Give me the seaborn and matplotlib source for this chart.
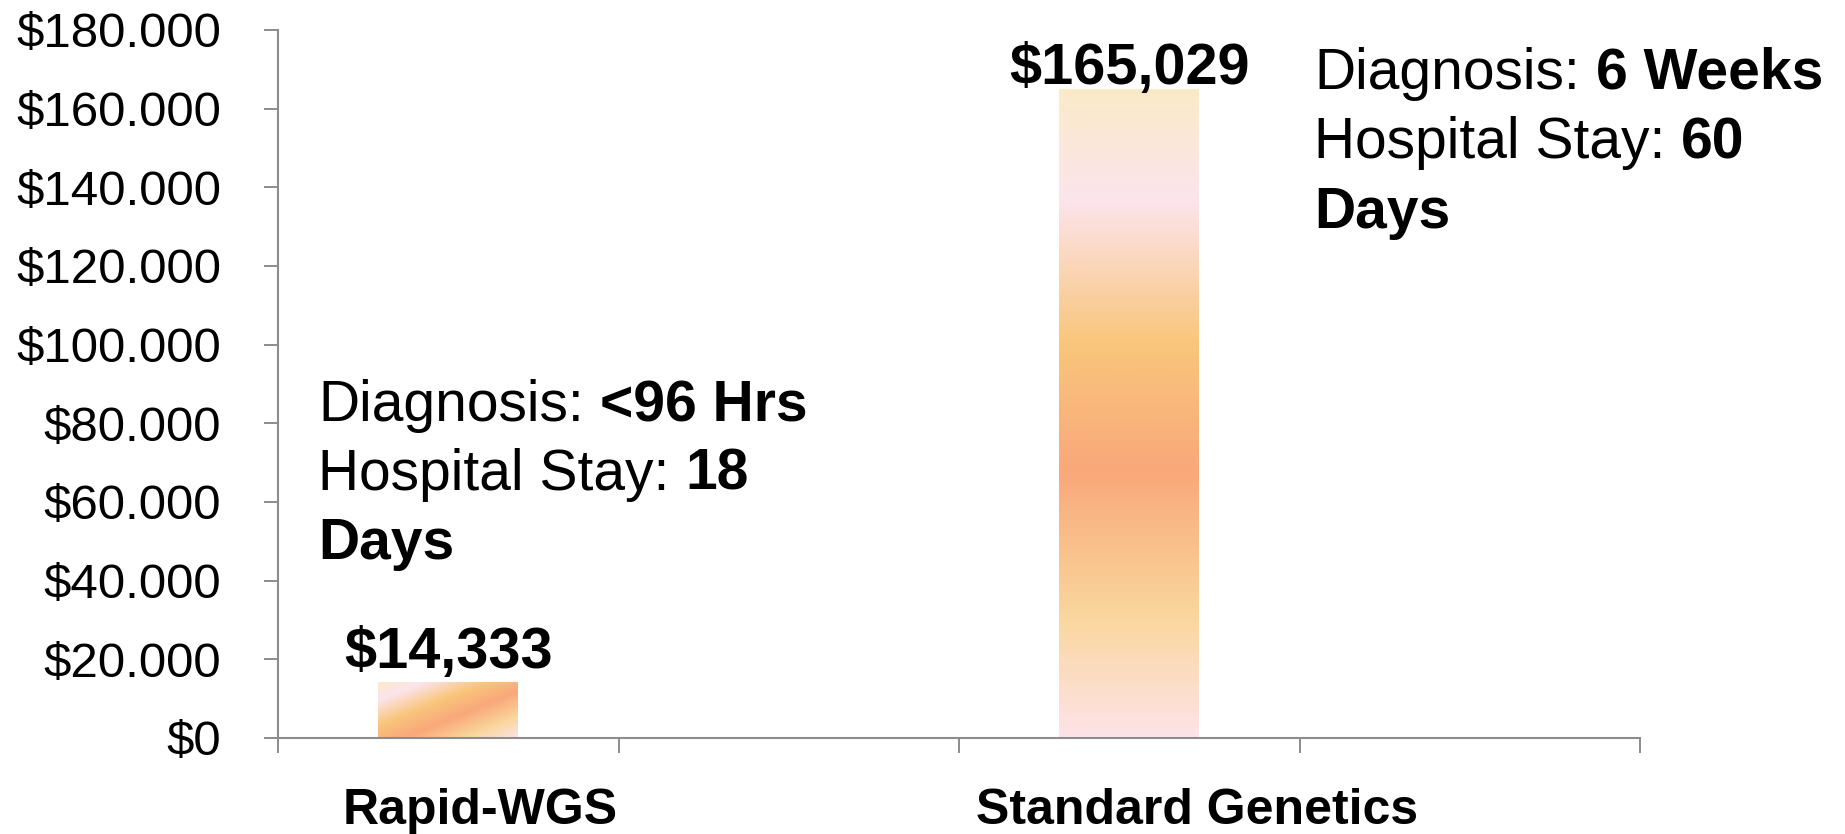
import numpy as np
import pandas as pd
import matplotlib
matplotlib.use("Agg")
import matplotlib.pyplot as plt
import seaborn as sns
from matplotlib.colors import LinearSegmentedColormap

# ---------------- data ----------------
categories = ["Rapid-WGS", "Standard Genetics"]
slots = ["Rapid-WGS", "slot_b", "Standard Genetics", "slot_d"]
costs = [14333, 165029]
value_labels = ["$14,333", "$165,029"]
ytick_values = [0, 20000, 40000, 60000, 80000, 100000, 120000, 140000, 160000, 180000]
ytick_labels = ["$0", "$20.000", "$40.000", "$60.000", "$80.000", "$100.000",
                "$120.000", "$140.000", "$160.000", "$180.000"]
note_rapid = [[("Diagnosis:", False), ("<96 Hrs", True)],
              [("Hospital Stay:", False), ("18", True)],
              [("Days", True)]]
note_standard = [[("Diagnosis:", False), ("6 Weeks", True)],
                 [("Hospital Stay:", False), ("60", True)],
                 [("Days", True)]]
gradient_colors = [(0.00, "#FAEAC8"), (0.17, "#FCE4EC"), (0.39, "#F9C67C"),
                   (0.59, "#F9A87A"), (0.81, "#FAD69C"), (1.00, "#FDE3E8")]

# ---------------- style ----------------
sns.set_theme(style="white")
plt.rcParams["font.family"] = ["Liberation Sans", "DejaVu Sans"]
AXIS_GRAY = "#8C8C8C"

fig = plt.figure(figsize=(18.45, 8.34), dpi=100)
ax = fig.add_axes([0.15068, 0.11511, 0.73821, 0.84892])

df = pd.DataFrame({"category": categories, "cost": costs})
sns.barplot(data=df, x="category", y="cost", order=slots, width=0.41,
            color="white", errorbar=None, ax=ax)

cmap = LinearSegmentedColormap.from_list("peach", gradient_colors)
bars = [p for p in ax.patches]
nx, ny = 300, 300
u = np.linspace(0, 1, nx)[None, :]
v = np.linspace(0, 1, ny)[:, None]
for i, patch in enumerate(bars):
    patch.set_facecolor("none")
    patch.set_edgecolor("none")
    x0, y0 = patch.get_x(), patch.get_y()
    w, h = patch.get_width(), patch.get_height()
    if h < 50000:
        t = (u + (1 - v)) / 2.0
    else:
        t = (1 - v) + 0 * u
    img = cmap(t)
    im = ax.imshow(img, extent=[x0, x0 + w, y0, y0 + h], origin="lower",
                   aspect="auto", zorder=2, interpolation="bilinear")
    im.set_clip_path(patch)

ax.set_xlim(-0.5, 3.5)
ax.set_ylim(0, 180000)

# spines
for s in ["top", "right"]:
    ax.spines[s].set_visible(False)
for s in ["left", "bottom"]:
    ax.spines[s].set_color(AXIS_GRAY)
    ax.spines[s].set_linewidth(1.5)

# y ticks
ax.set_yticks(ytick_values)
ax.set_yticklabels(ytick_labels, fontsize=35.5, color="black")
ax.tick_params(axis="y", which="major", direction="out", length=10, width=1.4,
               color=AXIS_GRAY, pad=31, left=True)

# x ticks: boundaries as major ticks, category labels as minor ticks
ax.set_xticks([-0.5, 0.5, 1.5, 2.5, 3.5])
ax.set_xticklabels([])
ax.set_xticks([0.094, 2.20], minor=True)
ax.set_xticklabels(categories, minor=True, fontsize=36, fontweight="bold",
                   color="black")
ax.tick_params(axis="x", which="major", direction="out", length=11, width=1.4,
               color=AXIS_GRAY, bottom=True)
ax.tick_params(axis="x", which="minor", length=0, pad=36, bottom=True)
ax.set_xlabel("")
ax.set_ylabel("")
ax.grid(False)

# value labels
offsets = [10, 3.6]
for patch, lab, off in zip(bars, value_labels, offsets):
    cx = patch.get_x() + patch.get_width() / 2
    ax.annotate(lab, xy=(cx, patch.get_height()), xytext=(0, off),
                textcoords="offset points", ha="center", va="baseline",
                fontsize=41.5, fontweight="bold", color="black", zorder=5)

# notes with mixed weights
NOTE_FS = 41
space_pt = 0.278 * NOTE_FS


def draw_note(lines, x, baselines):
    for line, yb in zip(lines, baselines):
        prev = None
        for text, bold in line:
            weight = "bold" if bold else "normal"
            if prev is None:
                prev = ax.text(x, yb, text, transform=ax.transAxes,
                               ha="left", va="baseline", fontsize=NOTE_FS,
                               fontweight=weight, color="black")
            else:
                prev = ax.annotate(text, xy=(1, 0), xycoords=prev,
                                   xytext=(space_pt, 0),
                                   textcoords="offset points",
                                   ha="left", va="bottom", fontsize=NOTE_FS,
                                   fontweight=weight, color="black")


draw_note(note_rapid, 0.0294, [0.4477, 0.3503, 0.2528])
draw_note(note_standard, 0.7607, [0.9167, 0.8192, 0.7203])

fig.savefig("out.png", dpi=100, facecolor="white")
